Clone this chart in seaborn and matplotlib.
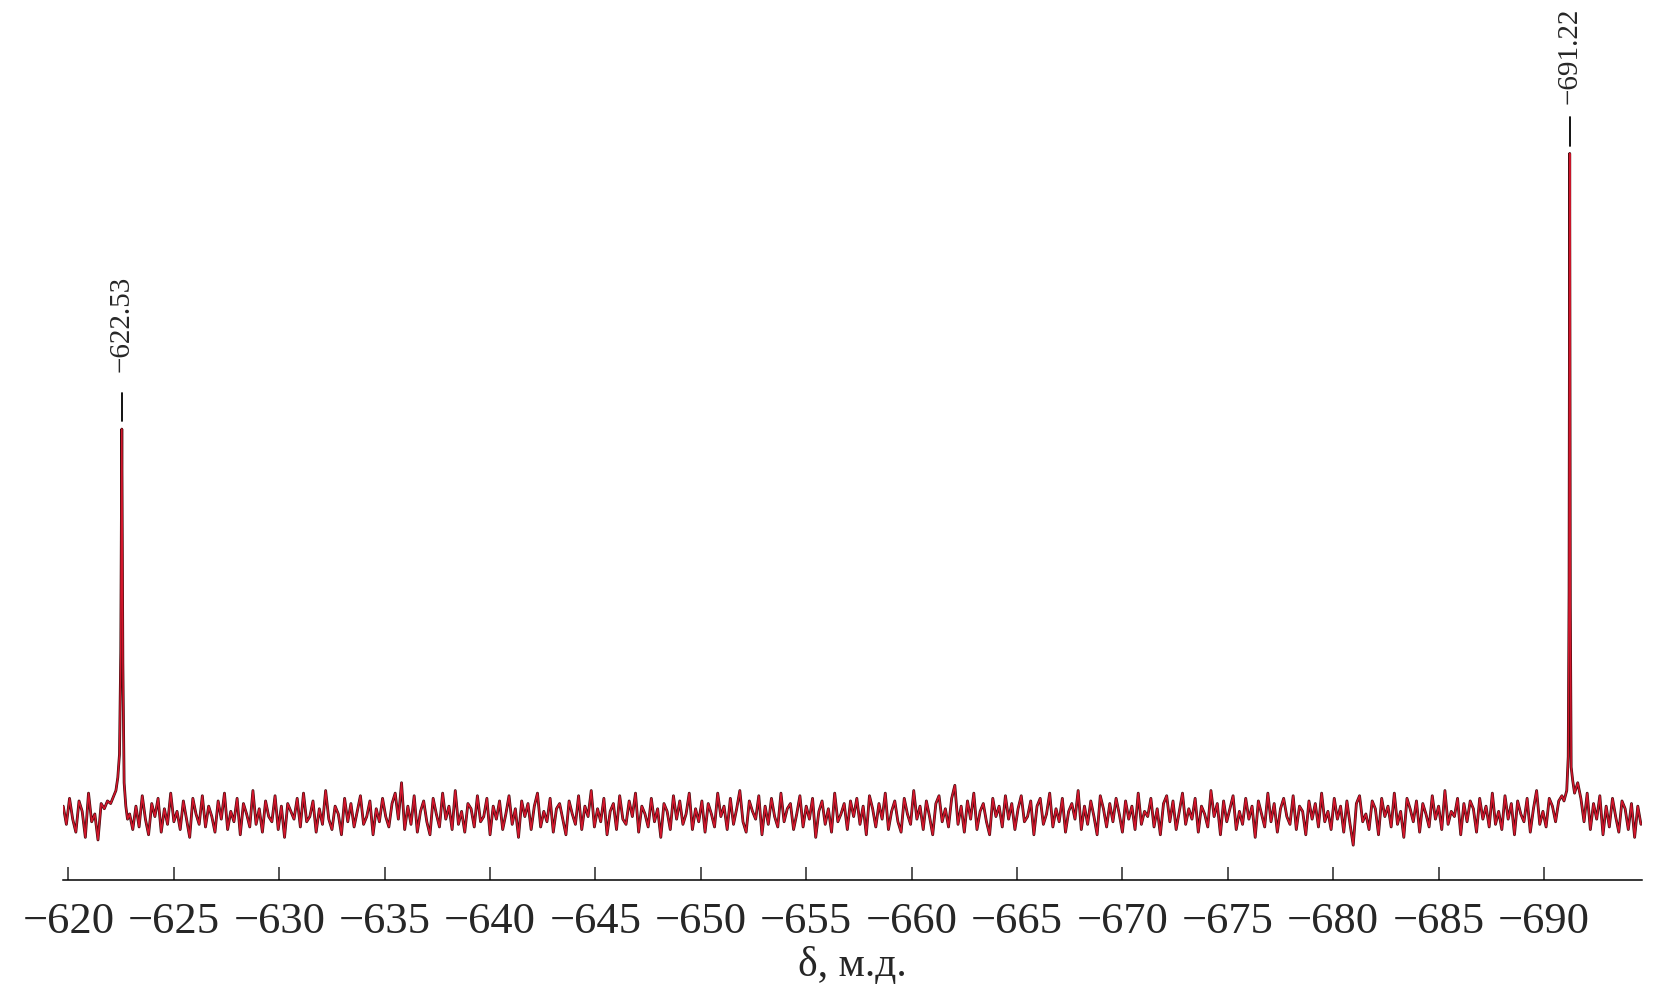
import numpy as np
import pandas as pd
import seaborn as sns
import matplotlib.pyplot as plt

# Spectrum data (intensity in arbitrary units, baseline = 0)

ppm_start = -619.75
ppm_end = -694.6

baseline_noise = [
    3, -4, 6, -2, -7, 5, 1, -9, 8, -3, 0, -10, 4, 2, 5, 4, 7, 0, 0, 0, 0, 0, -6, 3, -5, 7, -2, -8, 4, -1, 6, -7, 2, -4, 8, -3, 1, -6, 5, -2, -9, 6, 0, -4, 7, -5, 3, -1, -7, 5,
    -2, 8, -6, 1, -3, 6, -8, 4, 0, -5, 9, -4, 2, -7, 5, -1, -3, 7, -6, 3, -9, 4, 1, -2, 6, -5, 8, -3, -1, 5, -7, 2, -4, 9, -2, -6, 3, 0, -8, 6, -3, 4, -5, 1, 7, -4, -1, 5, -8, 2,
    -3, 6, -1, -5, 4, 8, -2, 12, -6, 3, -4, 7, -7, 1, 5, -3, -8, 6, 0, -5, 8, -2, 3, -6, 9, -4, 1, -7, 4, 2, -5, 7, -3, -1, 6, -8, 3, -2, 5, -6, 0, 7, -4, 2, -9, 5, -1, 4, -6, 3,
    8, -5, 1, -3, 6, -7, 2, 4, -2, -8, 5, 0, -4, 7, -6, 3, -1, 9, -5, 2, -3, 6, -8, 1, 4, -6, 7, -2, -4, 5, -1, 8, -7, 3, 0, -5, 6, -3, 2, -9, 4, 1, -6, 7, -2, 5, -4, 0, 8, -6,
    2, -3, 5, -7, 4, 0, -5, 8, -1, 3, -6, 6, -4, 2, 9, -3, -7, 5, 1, -2, 7, -8, 3, -4, 6, -1, -5, 8, -3, 2, 4, -6, 0, 7, -5, 3, -2, 6, -9, 1, 5, -4, 2, -7, 8, -3, 0, 4, -6, 5,
    -1, 6, -4, 3, -8, 7, 2, -5, 4, -2, 8, -6, 1, 5, -3, -7, 6, 0, -4, 9, -2, 3, -6, 5, -1, -8, 4, 7, -3, 2, -5, 6, 11, -4, 3, -7, 5, -2, 8, -6, 1, 4, -3, -8, 6, -1, 3, -5, 7, -2,
    4, -6, 2, 7, -3, -1, 5, -8, 3, 6, -4, 0, 8, -5, 2, -3, 6, -7, 1, 4, -2, 9, -6, 3, -4, 5, -1, -8, 7, 2, -5, 4, -3, 6, 0, -7, 5, -2, 3, -6, 8, -4, 1, -1, 6, -5, 2, -8, 4, 7,
    -3, 5, -6, 1, 8, -4, 2, -2, 6, -7, 3, 0, -5, 9, -1, 4, -8, 5, -3, 2, 7, -6, 1, -4, 6, -2, 3, -9, 5, 0, -5, 8, -3, 4, -7, 2, 6, -1, -4, 7, -6, 3, 1, -8, 5, -2, 4, -5, 8, -3,
    1, -6, 6, -2, 3, -7, 5, -4, -12, 4, 7, -3, 0, -6, 5, 2, -8, 6, -1, 3, -5, 8, -4, 1, -9, 6, 2, -3, 5, -7, 4, 0, -5, 7, -2, 3, -6, 9, -4, 1, -1, 6, -8, 4, -3, 5, 2, -7, 6, -2,
    3, -5, 8, -4, 1, -6, 7, -2, 4, -8, 5, 0, -3, 6, -7, 2, 9, -4, 1, -5, 6, 3, -3, 5, 7, 0, 0, 0, 0, 12, 6, -3, 8, -6, 4, -2, 7, -8, 3, -5, 6, -1, -7, 5, 2, -6, 4, -9, 3, -4,
]

peak1_ppm = [-622.25, -622.34, -622.42, -622.48, -622.53, -622.58, -622.64, -622.72, -622.8]
peak1_int = [9, 14, 23, 62, 148, 58, 12, 3, -2]

peak2_ppm = [-690.95, -691.08, -691.15, -691.19, -691.22, -691.25, -691.29, -691.36, -691.45]
peak2_int = [5, 9, 22, 85, 254, 80, 18, 13, 8]

peak_labels = ['\u2212622.53', '\u2212691.22']
peak_centers = [-622.53, -691.22]
label_ticks = [(151, 162), (257, 268)]
label_bottom = [170, 273]

tick_values = list(range(-620, -691, -5))

# Build the spectrum table

noise_ppm = np.linspace(ppm_start, ppm_end, len(baseline_noise))
noise_df = pd.DataFrame({'ppm': noise_ppm, 'intensity': baseline_noise})
keep = np.ones(len(noise_df), dtype=bool)
for lo, hi in [(peak1_ppm[0], peak1_ppm[-1]), (peak2_ppm[0], peak2_ppm[-1])]:
    keep &= ~((noise_df['ppm'] <= lo) & (noise_df['ppm'] >= hi))
noise_df = noise_df[keep]

peaks_df = pd.DataFrame({'ppm': peak1_ppm + peak2_ppm, 'intensity': peak1_int + peak2_int})
spec = pd.concat([noise_df, peaks_df]).sort_values('ppm', ascending=False).reset_index(drop=True)

# Plot

sns.set_style('white')
plt.rcParams['font.family'] = ['Liberation Serif', 'DejaVu Serif']

fig = plt.figure(figsize=(16.62, 9.93), dpi=100)
ax = fig.add_axes([63 / 1662, 1 - 880 / 993, (1642 - 63) / 1662, 880 / 993])

sns.lineplot(data=spec, x='ppm', y='intensity', ax=ax, sort=False, estimator=None,
             color='#3c0a0c', linewidth=2.0)
sns.lineplot(data=spec, x='ppm', y='intensity', ax=ax, sort=False, estimator=None,
             color='#d3162c', linewidth=1.1)

for c, lab, (t0, t1), yb in zip(peak_centers, peak_labels, label_ticks, label_bottom):
    ax.plot([c, c], [t0, t1], color='black', linewidth=1.3)
    ax.text(c, yb, lab, rotation=90, ha='center', va='bottom', fontsize=21)

ax.set_xlim(ppm_start + 0.01, ppm_end - 0.05)
ax.set_ylim(-25.4, 313)
ax.set_xticks(tick_values)
ax.set_xticklabels(['\u2212' + str(abs(t)) for t in tick_values], fontsize=32)
ax.tick_params(axis='x', direction='in', length=9.5, width=1.1, pad=16, bottom=True)
ax.set_yticks([])
ax.set_ylabel('')
ax.set_xlabel('\u03b4, м.д.', fontsize=30, labelpad=3)

for side in ['top', 'right', 'left']:
    ax.spines[side].set_visible(False)
ax.spines['bottom'].set_linewidth(1.1)
ax.spines['bottom'].set_color('black')
ax.patch.set_alpha(0)

fig.savefig('out.png', dpi=100)
